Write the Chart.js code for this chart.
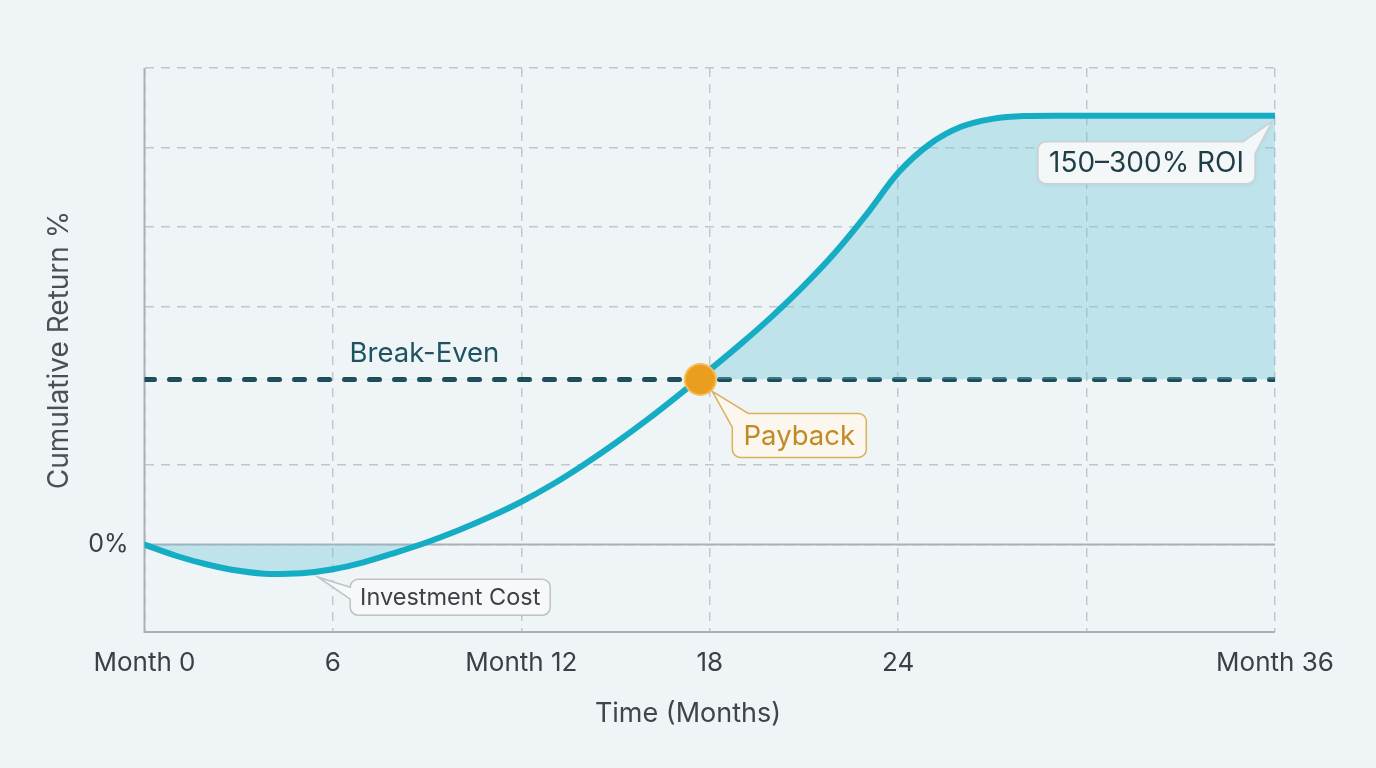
<!DOCTYPE html>
<html>
<head>
<meta charset="utf-8">
<script src="https://cdn.jsdelivr.net/npm/chart.js@4.4.1/dist/chart.umd.min.js"></script>
<style>
  html, body { margin: 0; padding: 0; background: #eff4f7; }
  #wrap { width: 1376px; height: 768px; position: relative; }
</style>
</head>
<body>
<div id="wrap"><canvas id="c"></canvas></div>
<script>
// ---- data ----
const months = [0,1,2,3,4,5,6,7,8,9,10,11,12,13,14,15,16,17,18,19,20,21,22,23,24,25,26,27,28,29,30,31,32,33,34,35,36];
const cumulativeReturn = [0,-7,-12.5,-16.5,-18.5,-18,-15.5,-11,-5,1.5,9,17.5,27,38,50.5,64,78.5,94,110,126.5,144,163,184,208,234,252,263,268,269.8,270,270,270,270,270,270,270,270];
const breakEven = 104;
const paybackMonth = 17.7;
const xTickValues = [0,6,12,18,24,30,36];
const xTickLabels = ['Month 0','6','Month 12','18','24','','Month 36'];
const yGridValues = [0,50,150,200,250,300];
const yTickLabels = ['0%','','','','',''];
const investmentAnchorMonth = 5.5;
const labelBreakEven = 'Break-Even';
const labelPayback = 'Payback';
const labelInvestment = 'Investment Cost';
const labelROI = '150\u2013300% ROI';
const xTitle = 'Time (Months)';
const yTitle = 'Cumulative Return %';

// ---- styling ----
const FONT = 'Inter, "Noto Sans", "DejaVu Sans", sans-serif';
const curveColor = '#15adc3';
const fillColor = 'rgba(105,198,214,0.37)';
const transparent = 'rgba(0,0,0,0)';

const curvePoints = months.map((m, i) => ({ x: m, y: cumulativeReturn[i] }));

function valueAt(month) {
  const i = Math.min(Math.floor(month), months.length - 2);
  const t = month - months[i];
  return cumulativeReturn[i] + (cumulativeReturn[i + 1] - cumulativeReturn[i]) * t;
}

const bgPlugin = {
  id: 'bg',
  beforeDraw(chart) {
    const ctx = chart.ctx;
    ctx.save();
    ctx.fillStyle = '#eff4f7';
    ctx.fillRect(0, 0, chart.width, chart.height);
    ctx.restore();
  }
};

const axesPlugin = {
  id: 'axesLines',
  beforeDatasetsDraw(chart) {
    const { ctx, chartArea: a, scales } = chart;
    const y0 = scales.y.getPixelForValue(0);
    ctx.save();
    ctx.strokeStyle = '#abb1b6';
    ctx.lineWidth = 2;
    ctx.beginPath();
    ctx.moveTo(a.left, a.top); ctx.lineTo(a.left, a.bottom); ctx.lineTo(a.right, a.bottom);
    ctx.stroke();
    ctx.beginPath();
    ctx.moveTo(a.left, y0); ctx.lineTo(a.right, y0);
    ctx.stroke();
    ctx.restore();
  },
  afterDraw(chart) {
    const ctx = chart.ctx;
    ctx.save();
    ctx.fillStyle = '#3f454b';
    ctx.font = '27px ' + FONT;
    ctx.textAlign = 'center';
    ctx.textBaseline = 'middle';
    ctx.fillText(xTitle, chart.width / 2, 714);
    ctx.restore();
  }
};

function drawBoxText(ctx, text, cx, cy, size, color) {
  ctx.fillStyle = color;
  ctx.font = size + 'px ' + FONT;
  ctx.textAlign = 'center';
  ctx.textBaseline = 'middle';
  ctx.fillText(text, cx, cy);
}

const annotPlugin = {
  id: 'annots',
  afterDatasetsDraw(chart) {
    const { ctx, chartArea: a, scales } = chart;
    const xs = scales.x, ys = scales.y;
    const r = 8;
    ctx.save();

    // Break-Even label
    const by = ys.getPixelForValue(breakEven);
    ctx.fillStyle = '#1d5461';
    ctx.font = '27.5px ' + FONT;
    ctx.textAlign = 'left';
    ctx.textBaseline = 'middle';
    ctx.fillText(labelBreakEven, a.left + 205, by - 26);

    // Payback callout
    {
      const px = xs.getPixelForValue(paybackMonth), py = by;
      const tip = { x: px + 12, y: py + 12 };
      const x = px + 32, y = py + 34, w = 134, h = 44;
      ctx.beginPath();
      ctx.moveTo(x + 16, y);
      ctx.lineTo(x + w - r, y); ctx.arcTo(x + w, y, x + w, y + r, r);
      ctx.lineTo(x + w, y + h - r); ctx.arcTo(x + w, y + h, x + w - r, y + h, r);
      ctx.lineTo(x + r, y + h); ctx.arcTo(x, y + h, x, y + h - r, r);
      ctx.lineTo(x, y + 14);
      ctx.lineTo(tip.x, tip.y);
      ctx.closePath();
      ctx.fillStyle = '#fbf7ee';
      ctx.fill();
      ctx.strokeStyle = '#dcb05a';
      ctx.lineWidth = 1.5;
      ctx.stroke();
      drawBoxText(ctx, labelPayback, x + w / 2, y + h / 2 + 1, 27.5, '#c18a22');
    }

    // Investment Cost callout
    {
      const ax = xs.getPixelForValue(investmentAnchorMonth);
      const ay = ys.getPixelForValue(valueAt(investmentAnchorMonth));
      const tip = { x: ax + 1, y: ay + 6 };
      const x = tip.x + 32, y = tip.y + 2, w = 200, h = 36;
      ctx.beginPath();
      ctx.moveTo(x + r, y);
      ctx.lineTo(x + w - r, y); ctx.arcTo(x + w, y, x + w, y + r, r);
      ctx.lineTo(x + w, y + h - r); ctx.arcTo(x + w, y + h, x + w - r, y + h, r);
      ctx.lineTo(x + r, y + h); ctx.arcTo(x, y + h, x, y + h - r, r);
      ctx.lineTo(x, y + 20);
      ctx.lineTo(tip.x, tip.y);
      ctx.lineTo(x, y + r);
      ctx.arcTo(x, y, x + r, y, r);
      ctx.closePath();
      ctx.fillStyle = '#f6f8f9';
      ctx.fill();
      ctx.strokeStyle = '#bcc2c7';
      ctx.lineWidth = 1.5;
      ctx.stroke();
      drawBoxText(ctx, labelInvestment, x + w / 2, y + h / 2 + 1, 23.5, '#3b4147');
    }

    // ROI callout
    {
      const ex = xs.getPixelForValue(months[months.length - 1]);
      const ey = ys.getPixelForValue(cumulativeReturn[cumulativeReturn.length - 1]);
      const tip = { x: ex - 3, y: ey + 6 };
      const x = ex - 237, y = ey + 26, w = 217, h = 42;
      ctx.beginPath();
      ctx.moveTo(x + r, y);
      ctx.lineTo(x + w - 12, y);
      ctx.lineTo(tip.x, tip.y);
      ctx.lineTo(x + w, y + 12);
      ctx.lineTo(x + w, y + h - r); ctx.arcTo(x + w, y + h, x + w - r, y + h, r);
      ctx.lineTo(x + r, y + h); ctx.arcTo(x, y + h, x, y + h - r, r);
      ctx.lineTo(x, y + r); ctx.arcTo(x, y, x + r, y, r);
      ctx.closePath();
      ctx.save();
      ctx.shadowColor = 'rgba(0,0,0,0.08)';
      ctx.shadowBlur = 4;
      ctx.shadowOffsetY = 1;
      ctx.fillStyle = '#f4f7f8';
      ctx.fill();
      ctx.restore();
      ctx.strokeStyle = '#cbd2d6';
      ctx.lineWidth = 1.5;
      ctx.stroke();
      drawBoxText(ctx, labelROI, x + w / 2, y + h / 2 + 1, 28, '#1f3d47');
    }
    ctx.restore();
  }
};

new Chart(document.getElementById('c'), {
  type: 'line',
  data: {
    datasets: [
      {
        label: 'payback',
        type: 'scatter',
        data: [{ x: paybackMonth, y: breakEven }],
        pointRadius: 15.5,
        pointBackgroundColor: '#eb9d1f',
        pointBorderColor: '#f4bd55',
        pointBorderWidth: 2,
        order: 0
      },
      {
        label: 'return',
        data: curvePoints,
        borderColor: curveColor,
        borderWidth: 6,
        borderCapStyle: 'round',
        borderJoinStyle: 'round',
        cubicInterpolationMode: 'monotone',
        pointRadius: 0,
        fill: { target: { value: breakEven }, above: fillColor, below: transparent },
        order: 1
      },
      {
        label: 'investment',
        data: curvePoints,
        borderWidth: 0,
        borderColor: transparent,
        cubicInterpolationMode: 'monotone',
        pointRadius: 0,
        fill: { target: { value: 0 }, above: transparent, below: fillColor },
        order: 3
      },
      {
        label: 'breakEven',
        data: [{ x: months[0], y: breakEven }, { x: months[months.length - 1], y: breakEven }],
        borderColor: '#1b4c58',
        borderWidth: 5,
        borderDash: [10, 15],
        borderCapStyle: 'round',
        pointRadius: 0,
        fill: false,
        order: 2
      }
    ]
  },
  options: {
    responsive: true,
    maintainAspectRatio: false,
    animation: false,
    devicePixelRatio: 1,
    layout: { padding: { top: 68, right: 101, left: 0, bottom: 0 } },
    plugins: { legend: { display: false }, tooltip: { enabled: false } },
    scales: {
      x: {
        type: 'linear',
        min: 0, max: 36,
        afterBuildTicks(scale) { scale.ticks = xTickValues.map(v => ({ value: v })); },
        afterFit(scale) { scale.height = 136; },
        ticks: {
          padding: 16,
          color: '#3b4046',
          font: { family: FONT, size: 26 },
          maxRotation: 0,
          autoSkip: false,
          callback(v) { const i = xTickValues.indexOf(v); return i >= 0 ? xTickLabels[i] : ''; }
        },
        grid: { color: '#c1c7cc', lineWidth: 1.5, drawTicks: false },
        border: { display: false, dash: [9, 7] },
        title: { display: false }
      },
      y: {
        type: 'linear',
        min: -55, max: 300,
        afterBuildTicks(scale) { scale.ticks = yGridValues.map(v => ({ value: v })); },
        afterFit(scale) { scale.width = 144.5; },
        ticks: {
          padding: 16,
          color: '#3b4046',
          font: { family: FONT, size: 25 },
          autoSkip: false,
          callback(v) { const i = yGridValues.indexOf(v); return i >= 0 ? yTickLabels[i] : ''; }
        },
        grid: { color: '#c1c7cc', lineWidth: 1.5, drawTicks: false },
        border: { display: false, dash: [9, 7] },
        title: { display: true, text: yTitle, color: '#4a5056', font: { family: FONT, size: 28 }, padding: { top: 43, bottom: 0 } }
      }
    }
  },
  plugins: [bgPlugin, axesPlugin, annotPlugin]
});
</script>
</body>
</html>
